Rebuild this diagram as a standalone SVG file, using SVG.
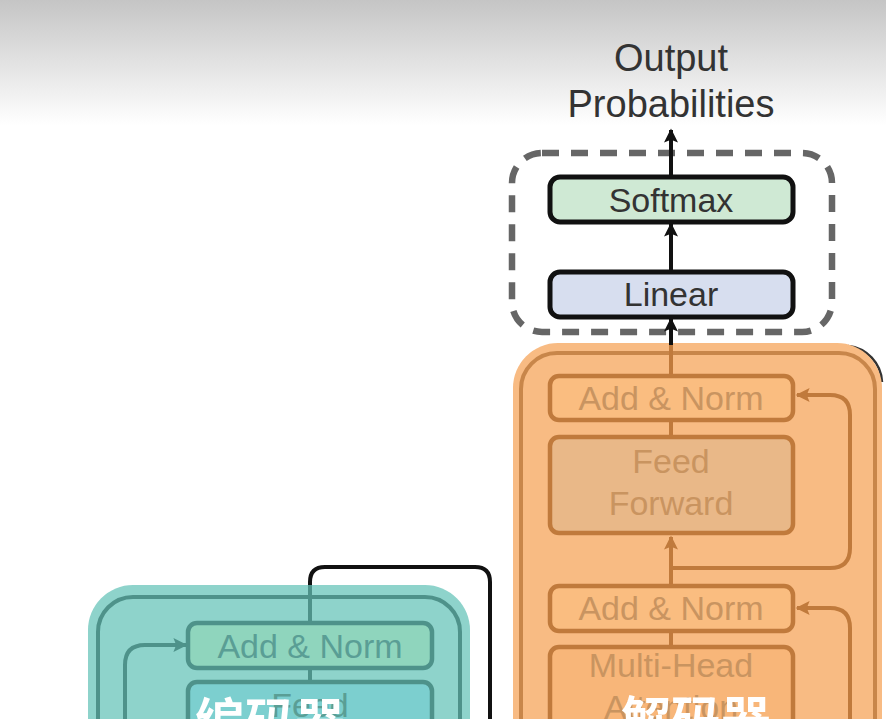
<svg xmlns="http://www.w3.org/2000/svg" width="886" height="719" viewBox="0 0 886 719">
<defs>
<linearGradient id="bg" x1="0" y1="0" x2="0" y2="1" gradientUnits="objectBoundingBox">
<stop offset="0" stop-color="#c5c5c5"/>
<stop offset="1" stop-color="#ffffff"/>
</linearGradient>
<marker id="hk" viewBox="0 0 10 10" refX="9" refY="5" markerWidth="16" markerHeight="14" markerUnits="userSpaceOnUse" orient="auto"><path d="M0,0 L10,5 L0,10 L2,5 z" fill="#111"/></marker>
<marker id="ho" viewBox="0 0 10 10" refX="9" refY="5" markerWidth="16" markerHeight="14" markerUnits="userSpaceOnUse" orient="auto"><path d="M0,0 L10,5 L0,10 L2,5 z" fill="#c07a3c"/></marker>
<marker id="ht" viewBox="0 0 10 10" refX="9" refY="5" markerWidth="16" markerHeight="14" markerUnits="userSpaceOnUse" orient="auto"><path d="M0,0 L10,5 L0,10 L2,5 z" fill="#4e928a"/></marker>
</defs>
<style>
text{font-family:"Liberation Sans",Arial,sans-serif;text-anchor:middle}
.lbl{font-size:34px}
.dk{fill:#333}
.or{fill:#c99460}
.te{fill:#5a9e95}
.cn{font-family:"Noto Sans CJK SC",sans-serif;font-weight:bold;font-size:50px;fill:#fff;text-anchor:start}
.bk{stroke:#111;stroke-width:4;fill:none}
.ob{stroke:#c07a3c;stroke-width:4.5}
.tb{stroke:#4e928a;stroke-width:4.5}
.ol{stroke:#c07a3c;stroke-width:4;fill:none}
.tl{stroke:#4e928a;stroke-width:4;fill:none}
</style>
<rect x="0" y="0" width="886" height="125" fill="url(#bg)"/>
<rect x="0" y="125" width="886" height="594" fill="#fff"/>

<g id="output-label">
<text class="dk" x="671" y="71" font-size="38">Output</text>
<text class="dk" x="671" y="117" font-size="38">Probabilities</text>
</g>

<g id="output-group">
<rect x="512" y="153" width="320" height="179" rx="30" fill="none" stroke="#666" stroke-width="6.5" stroke-dasharray="17 12"/>
</g>

<g id="decoder">
<path d="M 848 346 A 38 38 0 0 1 882 382" fill="none" stroke="#333" stroke-width="2.5"/>
<rect x="513" y="343" width="369" height="420" rx="45" fill="#f8bb83"/>
<rect x="521" y="353" width="354" height="420" rx="36" fill="none" stroke="#c8864a" stroke-width="4"/>
</g>

<g id="encoder">
<rect x="88" y="585" width="382" height="200" rx="45" fill="#8ed3cb"/>
<rect x="98" y="597" width="362" height="200" rx="35" fill="none" stroke="#4e928a" stroke-width="4"/>
</g>

<g id="connectors">
<path class="bk" d="M 671 176 V 130" marker-end="url(#hk)"/>
<path class="bk" d="M 671 271 V 224" marker-end="url(#hk)"/>
<path class="bk" d="M 671 345 V 319" marker-end="url(#hk)"/>
<path class="ol" d="M 671 375 V 345"/>
<path class="ol" d="M 671 420 V 437"/>
<path class="ol" d="M 671 585 V 537" marker-end="url(#ho)"/>
<path class="ol" d="M 671 568 H 830 Q 850 568 850 548 V 415 Q 850 395 830 395 H 797" marker-end="url(#ho)"/>
<path class="ol" d="M 850 719 V 628 Q 850 608 830 608 H 797" marker-end="url(#ho)"/>
<path class="ol" d="M 671 631 V 647"/>
<path class="bk" d="M 310 585 V 582 Q 310 567 325 567 H 475 Q 490 567 490 582 V 719"/>
<path class="tl" d="M 310 623 V 585"/>
<path class="tl" d="M 310 668 V 682"/>
<path class="tl" d="M 125 719 V 665 Q 125 645 145 645 H 186" marker-end="url(#ht)"/>
</g>

<g id="softmax">
<rect x="550" y="177" width="243" height="45" rx="10" fill="#cfe9d4" stroke="#111" stroke-width="5"/>
<text class="lbl dk" x="671" y="212">Softmax</text>
</g>
<g id="linear">
<rect x="550" y="272" width="243" height="45" rx="10" fill="#d7deef" stroke="#111" stroke-width="5"/>
<text class="lbl dk" x="671" y="306">Linear</text>
</g>

<g id="dec-addnorm-1">
<rect class="ob" x="550" y="376" width="243" height="44" rx="9" fill="#fabd80"/>
<text class="lbl or" x="671" y="410">Add &amp; Norm</text>
</g>
<g id="dec-feedforward">
<rect class="ob" x="550" y="437" width="243" height="96" rx="9" fill="#e9b888"/>
<text class="lbl or" x="671" y="473">Feed</text>
<text class="lbl or" x="671" y="515">Forward</text>
</g>
<g id="dec-addnorm-2">
<rect class="ob" x="550" y="586" width="243" height="45" rx="9" fill="#fabd80"/>
<text class="lbl or" x="671" y="620">Add &amp; Norm</text>
</g>
<g id="dec-multihead">
<rect class="ob" x="550" y="647" width="243" height="100" rx="9" fill="#f8b679"/>
<text class="lbl or" x="671" y="677">Multi-Head</text>
<text class="lbl or" x="671" y="719">Attention</text>
</g>

<g id="enc-addnorm">
<rect class="tb" x="188" y="623" width="244" height="45" rx="9" fill="#8fd5bd"/>
<text class="lbl te" x="310" y="658">Add &amp; Norm</text>
</g>
<g id="enc-feedforward">
<rect class="tb" x="188" y="682" width="244" height="96" rx="9" fill="#7ccfcf"/>
<text class="lbl te" x="310" y="717">Feed</text>
</g>

<g id="captions">
<text class="cn" x="195" y="740">编码器</text>
<text class="cn" x="621" y="738">解码器</text>
</g>
</svg>
